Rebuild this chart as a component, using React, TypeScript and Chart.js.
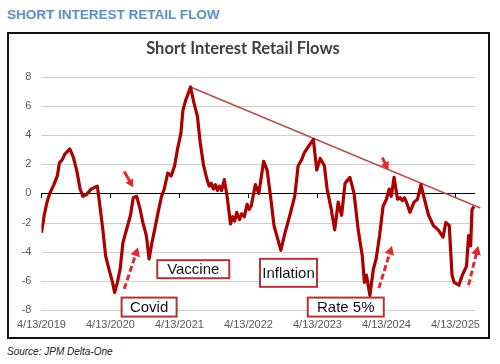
import React, { useEffect, useRef } from 'react';
import { Chart, registerables } from 'chart.js';

Chart.register(...registerables);

// years elapsed since 4/13/2019
const yearsSinceStart = [
  0.00, 0.04, 0.08, 0.12, 0.18, 0.23, 0.26, 0.30, 0.34, 0.41, 0.46, 0.51, 0.56, 0.60, 0.65, 0.72, 0.81, 0.84, 0.89, 0.93,
  0.99, 1.03, 1.06, 1.10, 1.14, 1.18, 1.22, 1.29, 1.33, 1.38, 1.43, 1.47, 1.52, 1.56, 1.60, 1.64, 1.69, 1.74, 1.78, 1.83,
  1.88, 1.93, 1.97, 2.02, 2.05, 2.09, 2.13, 2.16, 2.21, 2.26, 2.30, 2.35, 2.40, 2.43, 2.46, 2.49, 2.52, 2.55, 2.58, 2.61,
  2.65, 2.69, 2.74, 2.77, 2.80, 2.83, 2.87, 2.90, 2.94, 2.98, 3.01, 3.04, 3.10, 3.15, 3.22, 3.27, 3.32, 3.37, 3.41, 3.47,
  3.53, 3.60, 3.67, 3.72, 3.77, 3.81, 3.88, 3.94, 3.99, 4.04, 4.10, 4.14, 4.20, 4.25, 4.30, 4.35, 4.40, 4.47, 4.53, 4.59,
  4.65, 4.68, 4.71, 4.76, 4.81, 4.85, 4.90, 4.95, 5.00, 5.04, 5.07, 5.11, 5.16, 5.20, 5.23, 5.26, 5.29, 5.34, 5.40, 5.45,
  5.50, 5.55, 5.61, 5.68, 5.75, 5.82, 5.86, 5.91, 5.95, 5.98, 6.05, 6.10, 6.16, 6.19, 6.22, 6.24, 6.27,
];

const flowValues = [
  -2.7, -1.5, -0.6, 0.0, 0.6, 1.2, 2.1, 2.3, 2.7, 3.05, 2.5, 1.6, 0.3, -0.2, -0.1, 0.3, 0.5, -0.6, -2.5, -4.3,
  -5.4, -6.1, -6.8, -6.1, -5.2, -3.4, -2.7, -1.5, -0.3, -0.2, -1.1, -2.0, -2.9, -4.5, -3.4, -2.5, -1.3, -0.2, 0.3, 1.4,
  1.2, 1.9, 3.0, 4.1, 5.7, 6.4, 6.9, 7.3, 6.2, 5.3, 3.5, 1.9, 0.95, 0.5, 0.7, 0.3, 0.6, 0.2, 0.5, 0.2,
  0.95, -0.2, -2.1, -1.6, -1.9, -1.3, -1.8, -1.4, -1.6, -0.75, -1.1, -0.85, 0.6, 0.0, 2.2, 1.6, -0.2, -2.2, -2.9, -3.9,
  -2.7, -1.5, -0.2, 1.9, 2.3, 2.8, 3.3, 3.7, 1.6, 2.4, 1.9, 0.3, -1.1, -2.5, -0.6, -1.5, 0.7, 1.1, 0.0, -2.5,
  -4.3, -6.1, -5.6, -7.0, -5.2, -4.5, -2.9, -0.9, -0.4, 0.3, -0.2, 1.1, -0.4, -0.3, -0.5, -0.3, -0.6, -1.3, -0.6, -0.4,
  0.6, -0.4, -1.5, -2.2, -2.5, -3.0, -2.0, -2.2, -5.6, -6.1, -6.3, -5.6, -5.0, -2.9, -3.6, -1.1, -0.9,
];

const tickYears = [2019, 2020, 2021, 2022, 2023, 2024, 2025];
const tickLabels = tickYears.map((y) => `4/13/${y}`);
const gridValues = [-8, -6, -4, -2, 2, 4, 6, 8];

const trendYears = [2.16, 6.36];
const trendValues = [7.3, -1.0];

const noteTexts = ['Covid', 'Vaccine', 'Inflation', 'Rate 5%'];
const noteYears = [1.56, 2.2, 3.58, 4.41];
const noteValues = [-7.8, -5.2, -5.45, -7.8];

// arrows: start (t, v) -> end (t, v)
const arrowFromYears = [1.2, 4.89, 6.19, 1.2, 4.94];
const arrowFromValues = [-6.55, -6.5, -6.3, 1.5, 2.45];
const arrowToYears = [1.4, 5.08, 6.33, 1.33, 5.03];
const arrowToValues = [-3.7, -3.6, -3.6, 0.4, 1.6];
const arrowDashed = [true, true, true, false, false];

const noteBoxSizes = [
  [55, 19],
  [72, 18],
  [57, 28],
  [76, 19],
];

const notesPlugin = {
  id: 'notes',
  afterDraw(chart: any) {
    const { ctx } = chart;
    const xs = chart.scales.x;
    const ys = chart.scales.y;
    const area = chart.chartArea;
    ctx.save();
    arrowFromYears.forEach((t0, i) => {
      const x1 = xs.getPixelForValue(t0);
      const y1 = ys.getPixelForValue(arrowFromValues[i]);
      const x2 = xs.getPixelForValue(arrowToYears[i]);
      const y2 = ys.getPixelForValue(arrowToValues[i]);
      const ang = Math.atan2(y2 - y1, x2 - x1);
      const head = arrowDashed[i] ? 10 : 9;
      const bx = x2 - Math.cos(ang) * head * 0.8;
      const by = y2 - Math.sin(ang) * head * 0.8;
      ctx.strokeStyle = '#dc2c2c';
      ctx.fillStyle = '#dc2c2c';
      ctx.lineWidth = 3;
      ctx.setLineDash(arrowDashed[i] ? [6, 3] : []);
      ctx.beginPath();
      ctx.moveTo(x1, y1);
      ctx.lineTo(bx, by);
      ctx.stroke();
      ctx.setLineDash([]);
      ctx.beginPath();
      ctx.moveTo(x2, y2);
      ctx.lineTo(x2 - head * Math.cos(ang - 0.5), y2 - head * Math.sin(ang - 0.5));
      ctx.lineTo(x2 - head * Math.cos(ang + 0.5), y2 - head * Math.sin(ang + 0.5));
      ctx.closePath();
      ctx.fill();
    });
    noteTexts.forEach((txt, i) => {
      const cx = xs.getPixelForValue(noteYears[i]);
      const cy = ys.getPixelForValue(noteValues[i]);
      const [w, h] = noteBoxSizes[i];
      ctx.fillStyle = '#ffffff';
      ctx.fillRect(cx - w / 2, cy - h / 2, w, h);
      ctx.strokeStyle = '#b23535';
      ctx.lineWidth = 2;
      ctx.strokeRect(cx - w / 2, cy - h / 2, w, h);
      ctx.fillStyle = '#111111';
      ctx.font = '15px "Liberation Sans", Arial, sans-serif';
      ctx.textAlign = 'center';
      ctx.textBaseline = 'middle';
      ctx.fillText(txt, cx, cy + 1);
    });
    // horizontal grid drawn underneath everything already on the canvas
    ctx.globalCompositeOperation = 'destination-over';
    const left = area.left;
    const width = area.right - area.left;
    const zy = Math.round(ys.getPixelForValue(0));
    ctx.fillStyle = '#000000';
    ctx.fillRect(left, zy, width, 1);
    tickYears.forEach((_, i) => {
      const px = Math.round(xs.getPixelForValue(i));
      ctx.fillRect(px, zy, 1, 5);
    });
    ctx.fillStyle = '#cfcfcf';
    for (const v of gridValues) {
      const py = Math.round(ys.getPixelForValue(v));
      ctx.fillRect(left, py, width, 1);
    }
    ctx.restore();
  },
};

export default function App() {
  const canvasRef = useRef<HTMLCanvasElement | null>(null);

  useEffect(() => {
    if (!canvasRef.current) return;
    const chart = new Chart(canvasRef.current, {
      type: 'line',
      data: {
        datasets: [
          {
            label: 'Short Interest Retail Flows',
            data: yearsSinceStart.map((t, i) => ({ x: t, y: flowValues[i] })),
            borderColor: '#ab0000',
            borderWidth: 3.2,
            pointRadius: 0,
            tension: 0,
            borderJoinStyle: 'round',
          },
          {
            label: 'Trend',
            data: trendYears.map((t, i) => ({ x: t, y: trendValues[i] })),
            borderColor: '#b5504c',
            borderWidth: 1.5,
            pointRadius: 0,
            clip: false as any,
          },
        ],
      },
      options: {
        responsive: false,
        animation: false,
        layout: { padding: { left: 0, right: 11, top: 0, bottom: 0 } },
        plugins: {
          legend: { display: false },
          tooltip: { enabled: false },
          title: {
            display: true,
            text: 'Short Interest Retail Flows',
            color: '#404040',
            font: { family: 'Lato, "Open Sans", sans-serif', size: 16.5, weight: 'bold' },
            padding: { top: 5, bottom: 18 },
          },
        },
        scales: {
          x: {
            type: 'linear',
            min: 0,
            max: 6.285,
            afterBuildTicks: (scale: any) => {
              scale.ticks = tickYears.map((_, i) => ({ value: i }));
            },
            afterFit: (scale: any) => {
              scale.height = 27;
            },
            grid: { display: false, drawTicks: false },
            border: { display: false },
            ticks: {
              color: '#595959',
              font: { family: '"Liberation Sans", Arial, sans-serif', size: 11 },
              padding: 8,
              maxRotation: 0,
              autoSkip: false,
              callback: (v: any) => tickLabels[Math.round(Number(v))] ?? '',
            },
          },
          y: {
            min: -8,
            max: 8,
            afterFit: (scale: any) => {
              scale.width = 23;
            },
            ticks: {
              stepSize: 2,
              color: '#595959',
              font: { family: '"Liberation Sans", Arial, sans-serif', size: 11 },
              padding: 10,
            },
            grid: { display: false, drawTicks: false },
            border: { display: false },
          },
        },
      },
      plugins: [notesPlugin],
    });
    return () => chart.destroy();
  }, []);

  return (
    <div style={{ position: 'absolute', left: 0, top: 0, width: 500, height: 364, background: '#ffffff' }}>
      <div
        style={{
          position: 'absolute',
          left: 7,
          top: 7,
          fontFamily: '"Liberation Sans", Arial, sans-serif',
          fontWeight: 'bold',
          fontSize: 13.5,
          lineHeight: '16px',
          color: '#5f90c0',
          whiteSpace: 'nowrap',
        }}
      >
        SHORT INTEREST RETAIL FLOW
      </div>
      <div
        style={{
          position: 'absolute',
          left: 7,
          top: 32,
          width: 483,
          height: 307,
          border: '2px solid #111111',
          boxSizing: 'border-box',
        }}
      />
      <canvas
        ref={canvasRef}
        width={479}
        height={303}
        style={{ position: 'absolute', left: 9, top: 34, width: 479, height: 303 }}
      />
      <div
        style={{
          position: 'absolute',
          left: 7,
          top: 345,
          fontFamily: '"Liberation Sans", Arial, sans-serif',
          fontStyle: 'italic',
          fontSize: 10,
          lineHeight: '14px',
          color: '#222222',
          whiteSpace: 'nowrap',
        }}
      >
        Source: JPM Delta-One
      </div>
    </div>
  );
}
